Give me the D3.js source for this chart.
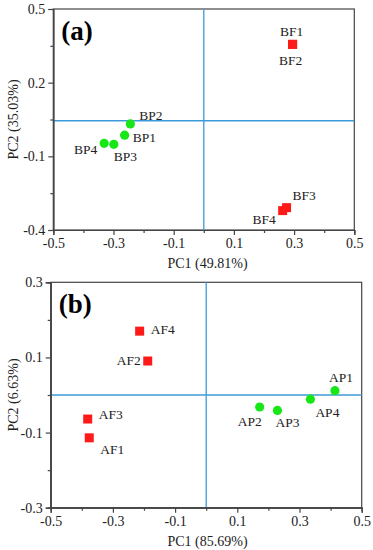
<!DOCTYPE html>
<html><head><meta charset="utf-8">
<script src="https://cdn.jsdelivr.net/npm/d3@7"></script>
<style>body{margin:0;background:#fff}svg{display:block}text{font-family:"Liberation Serif","Times New Roman",serif}</style>
</head><body>
<script>
// ---------- DATA ----------
const panelATags = ["BF1","BF2","BF3","BF4","BP1","BP2","BP3","BP4"];
const panelAPC1 = [0.295,0.295,0.275,0.262,-0.263,-0.244,-0.299,-0.331];
const panelAPC2 = [0.356,0.356,-0.309,-0.321,-0.014,0.032,-0.051,-0.047];
const panelAGroups = ["F","F","F","F","P","P","P","P"];

const panelBTags = ["AF1","AF2","AF3","AF4","AP1","AP2","AP3","AP4"];
const panelBPC1 = [-0.376,-0.188,-0.381,-0.214,0.414,0.172,0.229,0.335];
const panelBPC2 = [-0.114,0.0905,-0.064,0.170,0.0115,-0.032,-0.041,-0.011];
const panelBGroups = ["F","F","F","F","P","P","P","P"];

const xTicks = [-0.5,-0.3,-0.1,0.1,0.3,0.5];
const xMinor = [-0.4,-0.2,0,0.2,0.4];
const yTicksA = [0.5,0.2,-0.1,-0.4];
const yMinorA = [0.35,0.05,-0.25];
const yTicksB = [0.3,0.1,-0.1,-0.3];
const yMinorB = [0.2,0,-0.2];
const refA = {x:0, y:0.045};
const refB = {x:0, y:0};
const titlesA = {x:"PC1 (49.81%)", y:"PC2 (35.03%)", tag:"(a)"};
const titlesB = {x:"PC1 (85.69%)", y:"PC2 (6.63%)", tag:"(b)"};

// ---------- LAYOUT (label offsets: dx, dy, anchor) ----------
const labelPos = {
  BF1:[-1,-8,"middle"], BF2:[-2,21,"middle"], BF3:[6,-8,"start"], BF4:[-7,13,"end"],
  BP1:[8,7,"start"], BP2:[9,-4,"start"], BP3:[0,17,"start"], BP4:[-7,11,"end"],
  AF1:[11,16,"start"], AF2:[-7,4,"end"], AF3:[11,0,"start"], AF4:[11,3,"start"],
  AP1:[6,-9,"middle"], AP2:[2,19,"end"], AP3:[-2,17,"start"], AP4:[5,18,"start"]
};

const W=373,H=550;
const svg=d3.select("body").append("svg").attr("width",W).attr("height",H);
const axisCol="#444", refCol="#3b9bd8", red="#ff1a1a", green="#17e617";

function panel(cfg){
  const {tags,pc1,pc2,groups,yDom,yTicks,yMinor,ref,titles,box,xTitleX}=cfg;
  const x=d3.scaleLinear().domain([-0.5,0.5]).range([box.l,box.r]);
  const y=d3.scaleLinear().domain(yDom).range([box.b,box.t]);
  const g=svg.append("g");
  const fmt=d=>String(d);
  g.append("rect").attr("x",box.l).attr("y",box.t).attr("width",box.r-box.l).attr("height",box.b-box.t)
    .attr("fill","none").attr("stroke",axisCol).attr("stroke-width",1.2);
  g.append("line").attr("x1",x(ref.x)).attr("x2",x(ref.x)).attr("y1",box.t).attr("y2",box.b)
    .attr("stroke",refCol).attr("stroke-width",1.3);
  g.append("line").attr("x1",box.l).attr("x2",box.r).attr("y1",y(ref.y)).attr("y2",y(ref.y))
    .attr("stroke",refCol).attr("stroke-width",1.3);
  const styleAx=s=>{s.select(".domain").attr("stroke",axisCol).attr("stroke-width",1.2);
    s.selectAll(".tick line").attr("stroke",axisCol).attr("stroke-width",1.2);
    s.selectAll("text").attr("fill","#222").style("font-size","14px").style("font-family","Liberation Serif");};
  g.append("g").attr("transform",`translate(0,${box.b})`)
    .call(d3.axisBottom(x).tickValues(xTicks).tickSize(5).tickPadding(3).tickFormat(fmt)).call(styleAx);
  g.append("g").attr("transform",`translate(0,${box.b})`)
    .call(d3.axisBottom(x).tickValues(xMinor).tickSize(3).tickFormat("")).call(styleAx);
  g.append("g").attr("transform",`translate(${box.l},0)`)
    .call(d3.axisLeft(y).tickValues(yTicks).tickSize(5).tickPadding(3).tickFormat(fmt)).call(styleAx);
  g.append("g").attr("transform",`translate(${box.l},0)`)
    .call(d3.axisLeft(y).tickValues(yMinor).tickSize(3).tickFormat("")).call(styleAx);
  g.append("text").attr("x",xTitleX).attr("y",box.b+38).attr("text-anchor","middle")
    .style("font-size","14px").attr("fill","#222").text(titles.x);
  g.append("text").attr("transform",`translate(18,${(box.t+box.b)/2}) rotate(-90)`).attr("text-anchor","middle")
    .style("font-size","14px").attr("fill","#222").text(titles.y);
  g.append("text").attr("x",box.l+8).attr("y",box.t+31).style("font-size","27px").style("font-weight","bold")
    .attr("fill","#000").text(titles.tag);
  const pts=tags.map((t,i)=>({t,px:pc1[i],py:pc2[i],grp:groups[i]}));
  pts.forEach(p=>{
    if(p.grp==="F"){
      g.append("rect").attr("x",x(p.px)-4.5).attr("y",y(p.py)-4.5).attr("width",9).attr("height",9).attr("fill",red);
    }else{
      g.append("circle").attr("cx",x(p.px)).attr("cy",y(p.py)).attr("r",4.6).attr("fill",green);
    }
  });
  pts.forEach(p=>{
    const o=labelPos[p.t];
    g.append("text").attr("x",x(p.px)+o[0]).attr("y",y(p.py)+o[1]).attr("text-anchor",o[2])
      .style("font-size","13.5px").attr("fill","#222").text(p.t);
  });
}

panel({tags:panelATags,pc1:panelAPC1,pc2:panelAPC2,groups:panelAGroups,yDom:[-0.4,0.5],
  yTicks:yTicksA,yMinor:yMinorA,ref:refA,titles:titlesA,box:{l:53.3,r:354.3,t:9,b:230},xTitleX:207.5});
panel({tags:panelBTags,pc1:panelBPC1,pc2:panelBPC2,groups:panelBGroups,yDom:[-0.3,0.3],
  yTicks:yTicksB,yMinor:yMinorB,ref:refB,titles:titlesB,box:{l:50.7,r:361.7,t:282.3,b:507.7},xTitleX:207.5});
</script>
</body></html>
